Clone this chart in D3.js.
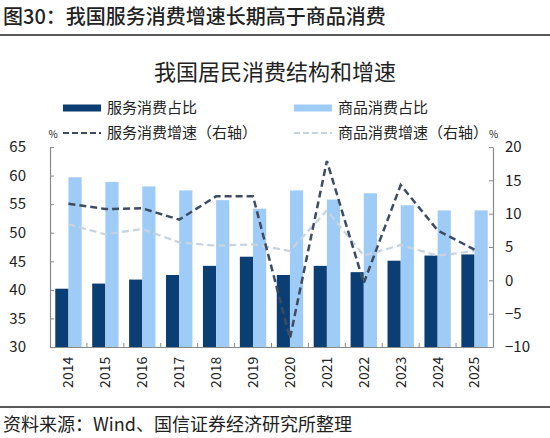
<html>
<head>
<meta charset="utf-8">
<style>
  body { margin: 0; background: #fff; }
  text { font-family: "Noto Sans CJK SC", "Noto Sans", sans-serif; }
</style>
</head>
<body>
<script src="https://cdn.jsdelivr.net/npm/d3@7"></script>
<svg id="chart" width="550" height="438"></svg>
<script>
// data
var years = ["2014","2015","2016","2017","2018","2019","2020","2021","2022","2023","2024","2025"];
var serviceShare = [40.2, 41.1, 41.8, 42.6, 44.2, 45.8, 42.6, 44.2, 43.1, 45.1, 46.0, 46.2];
var goodsShare   = [59.7, 58.9, 58.1, 57.4, 55.7, 54.2, 57.4, 55.8, 56.9, 54.8, 53.9, 53.9];
var serviceGrowth = [11.5, 10.7, 10.8, 9.1, 12.6, 12.6, -8.7, 17.9, -0.4, 14.3, 7.5, 4.6];
var goodsGrowth   = [8.4, 6.9, 7.7, 5.7, 5.2, 5.4, 4.4, 10.5, 3.7, 5.3, 3.7, 4.4];
var leftTicks = [30, 35, 40, 45, 50, 55, 60, 65];
var rightTicks = [-10, -5, 0, 5, 10, 15, 20];

var darkBar = "#0b3f73", lightBar = "#9fcbf7";
var darkLine = "#3d4b63", lightLine = "#c7d3e0";
var axisCol = "#8a8a8a", txt = "#222";

var svg = d3.select("#chart");

// page title and rules
svg.append("text").attr("x", 3).attr("y", 24)
  .attr("font-size", 20).attr("font-weight", 500).attr("fill", txt)
  .text("图30：我国服务消费增速长期高于商品消费");
svg.append("line").attr("x1", 0).attr("x2", 550).attr("y1", 35).attr("y2", 35)
  .attr("stroke", "#222").attr("stroke-width", 1.5);
svg.append("line").attr("x1", 0).attr("x2", 550).attr("y1", 407).attr("y2", 407)
  .attr("stroke", "#222").attr("stroke-width", 1.5);
svg.append("text").attr("x", 3).attr("y", 431)
  .attr("font-size", 18).attr("fill", txt)
  .text("资料来源：Wind、国信证券经济研究所整理");

// chart title
svg.append("text").attr("x", 275).attr("y", 80).attr("text-anchor", "middle")
  .attr("font-size", 22).attr("fill", txt)
  .text("我国居民消费结构和增速");

// scales
var plotL = 50, plotR = 493, plotT = 147, plotB = 347;
var x = d3.scaleBand().domain(years).range([plotL, plotR]);
var xs = d3.scaleBand().domain(["s", "g"]).range([0, x.bandwidth()]).paddingOuter(0.4).paddingInner(0);
var yL = d3.scaleLinear().domain([30, 65]).range([plotB, plotT]);
var yR = d3.scaleLinear().domain([-10, 20]).range([plotB, plotT]);

// bars
var g = svg.append("g");
g.selectAll(".sbar").data(serviceShare).join("rect")
  .attr("x", (d, i) => x(years[i]) + xs("s"))
  .attr("y", d => yL(d))
  .attr("width", xs.bandwidth())
  .attr("height", d => yL(30) - yL(d))
  .attr("fill", darkBar);
g.selectAll(".gbar").data(goodsShare).join("rect")
  .attr("x", (d, i) => x(years[i]) + xs("g"))
  .attr("y", d => yL(d))
  .attr("width", xs.bandwidth())
  .attr("height", d => yL(30) - yL(d))
  .attr("fill", lightBar);

// lines
var lineGen = d3.line()
  .x((d, i) => x(years[i]) + x.bandwidth() / 2)
  .y(d => yR(d));
svg.append("path").datum(goodsGrowth).attr("d", lineGen)
  .attr("fill", "none").attr("stroke", lightLine).attr("stroke-width", 2.2)
  .attr("stroke-dasharray", "7,4");
svg.append("path").datum(serviceGrowth).attr("d", lineGen)
  .attr("fill", "none").attr("stroke", darkLine).attr("stroke-width", 2.5)
  .attr("stroke-dasharray", "7,4");

// axes
function styleAxis(sel) {
  sel.selectAll("path, line").attr("stroke", axisCol);
  sel.select(".domain").attr("stroke-width", 1.2);
  sel.selectAll("text").attr("fill", txt).attr("font-family", "Liberation Sans, Arial, sans-serif");
}
var axL = svg.append("g").attr("transform", "translate(" + plotL + ",0)")
  .call(d3.axisLeft(yL).tickValues(leftTicks).tickSizeInner(-4).tickSizeOuter(0).tickPadding(24));
axL.selectAll("text").attr("font-size", 15);
styleAxis(axL);

var axR = svg.append("g").attr("transform", "translate(" + plotR + ",0)")
  .call(d3.axisRight(yR).tickValues(rightTicks).tickSizeInner(-4).tickSizeOuter(0).tickPadding(12)
    .tickFormat(d => d < 0 ? "\u2212" + Math.abs(d) : d));
axR.selectAll("text").attr("font-size", 15);
styleAxis(axR);

var axB = svg.append("g").attr("transform", "translate(0," + plotB + ")")
  .call(d3.axisBottom(x).tickSize(0));
axB.selectAll(".tick line").remove();
axB.selectAll("text")
  .attr("font-size", 14)
  .attr("transform", "rotate(-90)")
  .attr("text-anchor", "end")
  .attr("dx", "-0.7em").attr("dy", "0.35em")
  .attr("x", 0).attr("y", 0);
styleAxis(axB);
// category separator ticks pointing up
axB.selectAll(".sep").data(years.slice(1)).join("line")
  .attr("x1", d => x(d)).attr("x2", d => x(d))
  .attr("y1", 0).attr("y2", -4)
  .attr("stroke", axisCol);

// unit marks
svg.append("text").attr("x", 53).attr("y", 138).attr("text-anchor", "middle")
  .attr("font-size", 10).attr("fill", txt).text("%");
svg.append("text").attr("x", 489).attr("y", 138)
  .attr("font-size", 10).attr("fill", txt).text("%");

// legend
var legend = [
  {name: "服务消费占比", type: "bar", color: darkBar, col: 0, row: 0},
  {name: "商品消费占比", type: "bar", color: lightBar, col: 1, row: 0},
  {name: "服务消费增速（右轴）", type: "line", color: darkLine, col: 0, row: 1},
  {name: "商品消费增速（右轴）", type: "line", color: lightLine, col: 1, row: 1}
];
var lg = svg.selectAll(".lg").data(legend).join("g")
  .attr("transform", d => "translate(" + (d.col ? 294 : 63) + "," + (d.row ? 133 : 108) + ")");
lg.filter(d => d.type === "bar").append("rect")
  .attr("x", 0).attr("y", -3.5).attr("width", 38).attr("height", 7).attr("fill", d => d.color);
lg.filter(d => d.type === "line").append("line")
  .attr("x1", 0).attr("x2", 38).attr("y1", 0).attr("y2", 0)
  .attr("stroke", d => d.color).attr("stroke-width", 2.2).attr("stroke-dasharray", "6,3");
lg.append("text").attr("x", 44).attr("y", 0).attr("dy", "0.35em")
  .attr("font-size", 15).attr("fill", txt).text(d => d.name);
</script>
</body>
</html>
